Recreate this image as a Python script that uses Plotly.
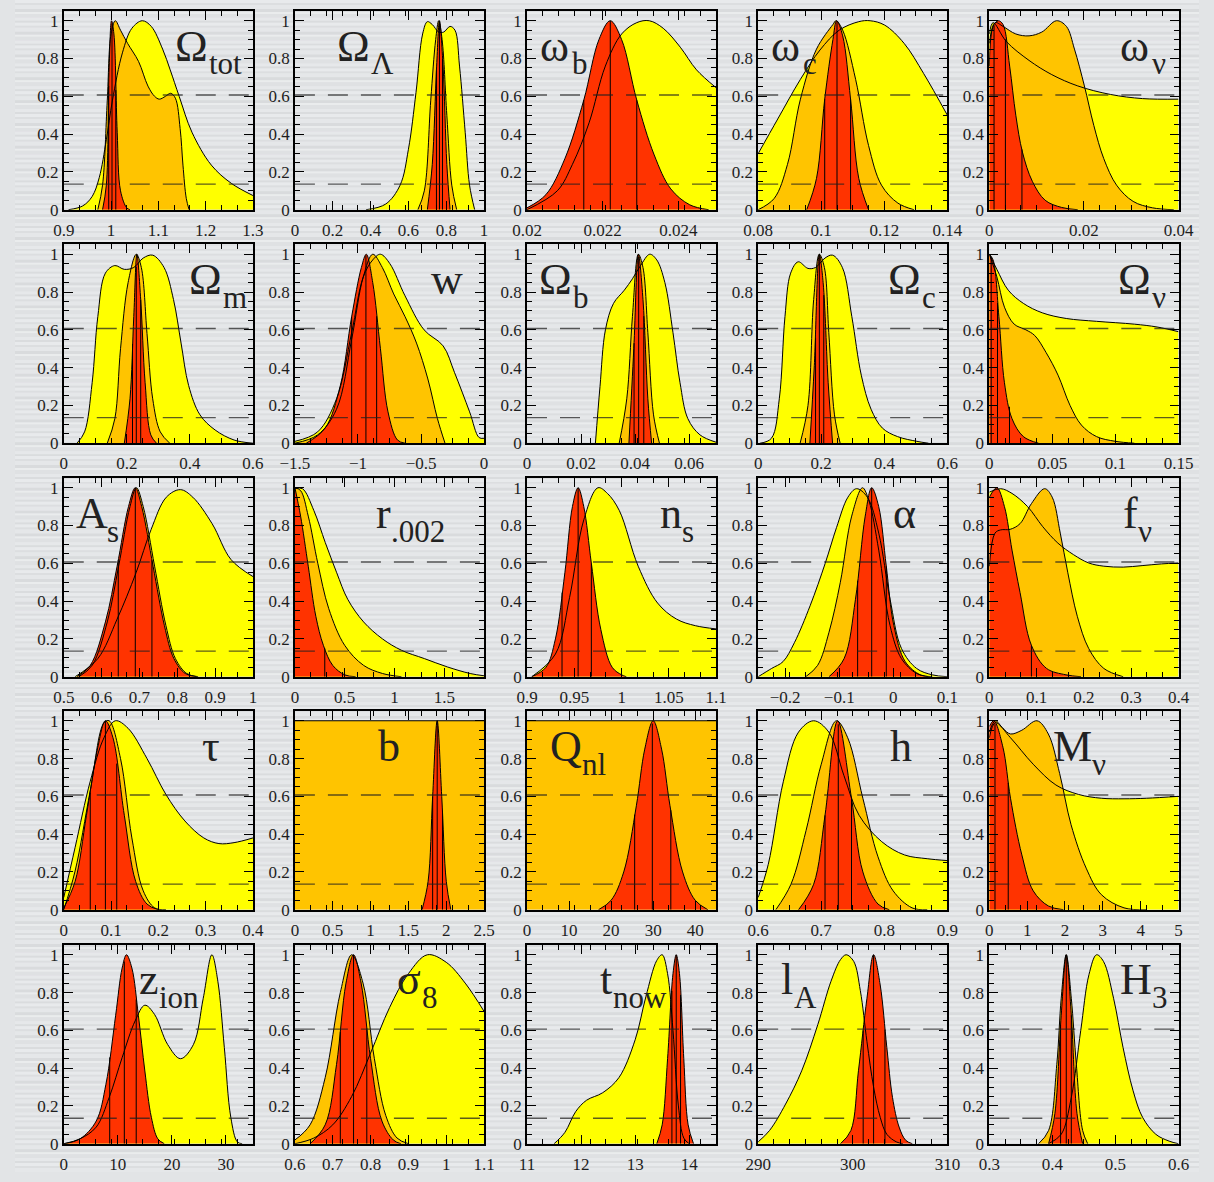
import numpy as np
import plotly.graph_objects as go

# ---------------------------------------------------------------
# Page geometry (pixels) for the 5 x 5 grid of 1-D likelihoods
# ---------------------------------------------------------------
FIG_W, FIG_H = 1214, 1182
COL_LEFT = [50, 287, 525, 762, 999]
ROW_TOP = [11, 246.5, 482, 717, 953]
PANEL_W, PANEL_H = 194, 200.5
Y_MAX = 1.052
LEVEL_1SIG = 0.607   # e^(-1/2)
LEVEL_2SIG = 0.135   # e^(-2)

YELLOW, ORANGE, RED = "#ffff00", "#ffc400", "#ff3300"
FONT = "Liberation Serif"

# ---------------------------------------------------------------
# Likelihood curves: [parameter value, relative likelihood]
# yellow = widest constraint, orange = intermediate, red = tightest
# *_LINES = median and 1-sigma positions marked inside red curve
# ---------------------------------------------------------------
OMTOT_Y = [[0.91, 0], [0.94, 0.02], [0.96, 0.07], [0.975, 0.17], [0.99, 0.37], [1.003, 0.58], [1.024, 0.83],
           [1.044, 0.96], [1.066, 1.0], [1.085, 0.97], [1.109, 0.85], [1.125, 0.74], [1.144, 0.6], [1.171, 0.41],
           [1.212, 0.236], [1.254, 0.14], [1.3, 0.075]]
OMTOT_O = [[0.972, 0], [0.982, 0.13], [0.992, 0.58], [1.0, 0.93], [1.009, 1.0], [1.02, 0.95], [1.035, 0.88],
           [1.058, 0.785], [1.078, 0.654], [1.092, 0.6], [1.102, 0.585], [1.115, 0.6], [1.126, 0.616],
           [1.136, 0.59], [1.146, 0.43], [1.152, 0.236], [1.159, 0.06], [1.165, 0]]
OMTOT_R = [[0.982, 0], [0.99, 0.13], [0.996, 0.76], [1.001, 1.0], [1.006, 0.93], [1.013, 0.41], [1.02, 0.1],
           [1.033, 0.01], [1.04, 0]]
OMTOT_LINES = [0.995, 1.002, 1.01]

OMLAM_Y = [[0.376, 0], [0.48, 0.03], [0.556, 0.13], [0.6, 0.32], [0.64, 0.62], [0.675, 0.93], [0.70, 0.995],
           [0.726, 0.98], [0.76, 0.94], [0.786, 0.94], [0.82, 0.97], [0.846, 0.95], [0.87, 0.76], [0.9, 0.41],
           [0.923, 0.13], [0.95, 0]]
OMLAM_O = [[0.65, 0], [0.684, 0.1], [0.718, 0.58], [0.744, 0.9], [0.76, 1], [0.778, 0.9], [0.803, 0.5],
           [0.829, 0.13], [0.855, 0]]
OMLAM_R = [[0.70, 0], [0.726, 0.24], [0.749, 0.76], [0.764, 1], [0.783, 0.76], [0.803, 0.24], [0.82, 0]]
OMLAM_LINES = [0.748, 0.764, 0.78]

OMB_H2_Y = [[0.02, 0], [0.0208, 0.1], [0.0212, 0.24], [0.02164, 0.46], [0.02207, 0.76], [0.0225, 0.93],
            [0.0229, 0.99], [0.02323, 1.0], [0.0236, 0.96], [0.02405, 0.86], [0.02448, 0.74], [0.025, 0.645]]
OMB_H2_R = [[0.02, 0.01], [0.0205, 0.08], [0.021, 0.27], [0.0215, 0.58], [0.0219, 0.9], [0.0222, 1.0],
            [0.0225, 0.9], [0.0229, 0.58], [0.02336, 0.29], [0.0238, 0.11], [0.0243, 0.026], [0.0248, 0]]
OMB_H2_LINES = [0.0215, 0.0222, 0.0229]

OMC_H2_Y = [[0.08, 0.297], [0.0862, 0.48], [0.0934, 0.69], [0.0996, 0.845], [0.1057, 0.95], [0.1119, 0.995],
            [0.1155, 1], [0.1201, 0.977], [0.1263, 0.88], [0.1325, 0.72], [0.14, 0.5]]
OMC_H2_O = [[0.08, 0], [0.0851, 0.06], [0.0893, 0.24], [0.0934, 0.585], [0.0985, 0.85], [0.1037, 0.98],
            [0.1047, 1], [0.1068, 0.95], [0.1109, 0.69], [0.115, 0.34], [0.1191, 0.13], [0.1243, 0.035],
            [0.1294, 0]]
OMC_H2_R = [[0.0954, 0], [0.0985, 0.166], [0.1011, 0.585], [0.1037, 0.9], [0.1049, 1], [0.1068, 0.92],
            [0.1093, 0.585], [0.1119, 0.166], [0.115, 0]]
OMC_H2_LINES = [0.1011, 0.105, 0.1093]

OMNU_H2_Y = [[0, 0.93], [0.0008, 0.99], [0.0036, 0.89], [0.0084, 0.79], [0.0132, 0.715], [0.0187, 0.655],
             [0.0256, 0.61], [0.0324, 0.588], [0.04, 0.585]]
OMNU_H2_O = [[0, 0.88], [0.0012, 0.99], [0.0029, 0.97], [0.0056, 0.93], [0.0084, 0.92], [0.0111, 0.94],
             [0.0142, 1], [0.0163, 0.97], [0.018, 0.85], [0.0201, 0.655], [0.0221, 0.445], [0.0242, 0.27],
             [0.0269, 0.13], [0.0304, 0.044], [0.0345, 0.01], [0.039, 0]]
OMNU_H2_R = [[0, 0.76], [0.0008, 0.97], [0.0019, 1], [0.0029, 0.98], [0.0043, 0.76], [0.0056, 0.5],
             [0.007, 0.305], [0.0091, 0.15], [0.0118, 0.05], [0.0153, 0.012], [0.0187, 0]]
OMNU_H2_LINES = [0.001, 0.0034, 0.0069]

OMM_Y = [[0.042, 0], [0.066, 0.06], [0.09, 0.32], [0.108, 0.67], [0.132, 0.9], [0.162, 0.94], [0.192, 0.92],
         [0.222, 0.93], [0.252, 0.98], [0.282, 0.995], [0.318, 0.93], [0.348, 0.76], [0.372, 0.53],
         [0.396, 0.305], [0.432, 0.15], [0.48, 0.07], [0.54, 0.017], [0.6, 0]]
OMM_O = [[0.138, 0], [0.162, 0.13], [0.18, 0.5], [0.204, 0.85], [0.23, 1], [0.246, 0.93], [0.264, 0.58],
         [0.282, 0.235], [0.306, 0.06], [0.336, 0]]
OMM_R = [[0.192, 0], [0.21, 0.235], [0.222, 0.67], [0.232, 1], [0.244, 0.76], [0.258, 0.32], [0.276, 0.044],
         [0.294, 0]]
OMM_LINES = [0.218, 0.23, 0.244]

W_Y = [[-1.5, 0.01], [-1.32, 0.06], [-1.17, 0.235], [-1.05, 0.585], [-0.958, 0.88], [-0.883, 0.97],
       [-0.822, 1], [-0.747, 0.95], [-0.627, 0.78], [-0.476, 0.6], [-0.325, 0.515], [-0.235, 0.375],
       [-0.115, 0.166], [-0.04, 0.03], [0, 0.026]]
W_O = [[-1.5, 0], [-1.32, 0.044], [-1.17, 0.18], [-1.05, 0.55], [-0.958, 0.88], [-0.883, 1], [-0.807, 0.93],
       [-0.717, 0.79], [-0.627, 0.67], [-0.536, 0.53], [-0.446, 0.34], [-0.37, 0.13], [-0.31, 0]]
W_R = [[-1.41, 0], [-1.26, 0.08], [-1.14, 0.305], [-1.05, 0.67], [-0.973, 0.93], [-0.934, 1], [-0.883, 0.85],
       [-0.822, 0.5], [-0.762, 0.166], [-0.687, 0.017], [-0.627, 0]]
W_LINES = [-1.05, -0.937, -0.852]

OMB_Y = [[0.0253, 0], [0.027, 0.3], [0.029, 0.6], [0.032, 0.74], [0.036, 0.81], [0.039, 0.87], [0.042, 0.94],
         [0.0454, 1.0], [0.048, 0.97], [0.051, 0.85], [0.054, 0.585], [0.0566, 0.32], [0.0595, 0.13],
         [0.064, 0.044], [0.07, 0.005]]
OMB_O = [[0.0341, 0], [0.0369, 0.235], [0.039, 0.67], [0.0412, 1.0], [0.0429, 0.93], [0.0447, 0.585],
         [0.0468, 0.15], [0.049, 0]]
OMB_R = [[0.0377, 0], [0.0395, 0.5], [0.0412, 1], [0.0429, 0.76], [0.0447, 0.235], [0.0461, 0]]
OMB_LINES = [0.0396, 0.0413, 0.0432]

OMC_Y = [[0.006, 0], [0.042, 0.026], [0.067, 0.235], [0.085, 0.67], [0.103, 0.9], [0.127, 0.96],
         [0.158, 0.925], [0.182, 0.93], [0.212, 0.98], [0.236, 0.995], [0.267, 0.93], [0.297, 0.67],
         [0.327, 0.36], [0.358, 0.18], [0.394, 0.08], [0.442, 0.035], [0.503, 0.01], [0.54, 0]]
OMC_O = [[0.133, 0], [0.158, 0.2], [0.176, 0.76], [0.194, 1], [0.21, 0.93], [0.224, 0.585], [0.242, 0.15],
         [0.26, 0]]
OMC_R = [[0.164, 0], [0.178, 0.41], [0.194, 1], [0.206, 0.85], [0.222, 0.32], [0.236, 0]]
OMC_LINES = [0.182, 0.194, 0.208]

OMNU_Y = [[0, 1], [0.006, 0.92], [0.015, 0.81], [0.027, 0.74], [0.042, 0.69], [0.061, 0.66], [0.085, 0.645],
          [0.115, 0.63], [0.133, 0.615], [0.15, 0.59]]
OMNU_O = [[0, 1], [0.006, 0.88], [0.012, 0.72], [0.0197, 0.63], [0.029, 0.6], [0.036, 0.57], [0.045, 0.48],
          [0.0545, 0.36], [0.064, 0.2], [0.073, 0.096], [0.085, 0.035], [0.1, 0.01], [0.115, 0]]
OMNU_R = [[0, 1], [0.003, 0.97], [0.0076, 0.67], [0.012, 0.32], [0.018, 0.13], [0.027, 0.035], [0.039, 0]]
OMNU_LINES = [0.0015, 0.0065, 0.016]

AS_Y = [[0.53, 0], [0.59, 0.096], [0.641, 0.305], [0.691, 0.55], [0.731, 0.78], [0.771, 0.95], [0.808, 0.99],
        [0.841, 0.95], [0.892, 0.81], [0.942, 0.62], [1.0, 0.53]]
AS_O = [[0.54, 0], [0.575, 0.06], [0.615, 0.29], [0.645, 0.585], [0.675, 0.9], [0.692, 1], [0.71, 0.9],
        [0.74, 0.585], [0.77, 0.27], [0.795, 0.096], [0.825, 0.017], [0.855, 0]]
AS_R = [[0.535, 0], [0.57, 0.06], [0.61, 0.29], [0.641, 0.585], [0.671, 0.9], [0.689, 1], [0.706, 0.9],
        [0.736, 0.585], [0.766, 0.27], [0.791, 0.096], [0.821, 0.017], [0.851, 0]]
AS_LINES = [0.644, 0.689, 0.733]

R002_Y = [[0, 0.995], [0.076, 0.995], [0.19, 0.88], [0.305, 0.71], [0.42, 0.55], [0.53, 0.41], [0.69, 0.29],
          [0.88, 0.2], [1.07, 0.14], [1.3, 0.096], [1.53, 0.052], [1.76, 0.017], [1.9, 0.005]]
R002_O = [[0, 1], [0.057, 0.985], [0.134, 0.85], [0.23, 0.6], [0.34, 0.36], [0.5, 0.166], [0.69, 0.06],
          [0.88, 0.017], [1.07, 0]]
R002_R = [[0, 1], [0.057, 0.85], [0.134, 0.585], [0.21, 0.32], [0.286, 0.166], [0.38, 0.06], [0.5, 0.01],
          [0.61, 0]]
R002_LINES = [0.3]

NS_Y = [[0.905, 0], [0.93, 0.12], [0.945, 0.42], [0.96, 0.83], [0.975, 1.0], [0.985, 0.97], [0.9975, 0.88],
        [1.0175, 0.585], [1.038, 0.39], [1.058, 0.305], [1.078, 0.27], [1.1, 0.253]]
NS_R = [[0.905, 0], [0.92, 0.05], [0.93, 0.2], [0.94, 0.55], [0.948, 0.9], [0.954, 1.0], [0.96, 0.9],
        [0.968, 0.6], [0.978, 0.25], [0.99, 0.05], [1.0, 0.01], [1.005, 0]]
NS_LINES = [0.937, 0.954, 0.968]

ALPHA_Y = [[-0.25, 0], [-0.225, 0.044], [-0.204, 0.08], [-0.183, 0.18], [-0.154, 0.375], [-0.126, 0.6],
           [-0.105, 0.79], [-0.084, 0.95], [-0.068, 0.995], [-0.048, 0.95], [-0.027, 0.76], [-0.006, 0.41],
           [0.015, 0.15], [0.043, 0.044], [0.072, 0.01], [0.1, 0]]
ALPHA_O = [[-0.162, 0], [-0.14, 0.06], [-0.119, 0.235], [-0.098, 0.5], [-0.077, 0.85], [-0.057, 1],
           [-0.045, 0.93], [-0.027, 0.67], [-0.006, 0.27], [0.015, 0.096], [0.043, 0.017], [0.065, 0]]
ALPHA_R = [[-0.119, 0], [-0.091, 0.096], [-0.07, 0.41], [-0.052, 0.85], [-0.04, 1], [-0.027, 0.9],
           [-0.013, 0.585], [0.001, 0.27], [0.022, 0.08], [0.05, 0.01], [0.072, 0]]
ALPHA_LINES = [-0.066, -0.04, -0.013]

FNU_Y = [[0, 0.977], [0.024, 0.995], [0.048, 0.97], [0.081, 0.9], [0.113, 0.794], [0.145, 0.707],
         [0.178, 0.646], [0.21, 0.602], [0.242, 0.585], [0.283, 0.58], [0.323, 0.588], [0.364, 0.597],
         [0.4, 0.602]]
FNU_O = [[0, 0.585], [0.012, 0.76], [0.024, 0.777], [0.044, 0.78], [0.065, 0.81], [0.089, 0.916],
         [0.117, 0.995], [0.133, 0.95], [0.15, 0.76], [0.166, 0.55], [0.186, 0.32], [0.21, 0.15],
         [0.242, 0.044], [0.283, 0]]
FNU_R = [[0, 0.95], [0.016, 1], [0.032, 0.9], [0.048, 0.67], [0.065, 0.445], [0.089, 0.166], [0.121, 0.044],
         [0.162, 0.01], [0.194, 0]]
FNU_LINES = [0.089]

TAU_Y = [[0, 0.065], [0.024, 0.33], [0.056, 0.68], [0.085, 0.91], [0.109, 1], [0.136, 0.96], [0.176, 0.8],
         [0.216, 0.61], [0.256, 0.47], [0.296, 0.38], [0.328, 0.35], [0.36, 0.355], [0.4, 0.38]]
TAU_O = [[0, 0], [0.024, 0.205], [0.056, 0.63], [0.085, 0.99], [0.096, 1], [0.12, 0.8], [0.144, 0.38],
         [0.168, 0.1], [0.192, 0.01], [0.216, 0]]
TAU_R = [[0, 0.01], [0.024, 0.15], [0.048, 0.5], [0.072, 0.86], [0.088, 1], [0.104, 0.91], [0.128, 0.5],
         [0.152, 0.15], [0.176, 0.03], [0.2, 0]]
TAU_LINES = [0.056, 0.088, 0.112]

BIAS_O = [[0, 1], [2.5, 1]]
BIAS_R = [[1.68, 0], [1.76, 0.15], [1.82, 0.6], [1.88, 1], [1.94, 0.6], [2.0, 0.15], [2.06, 0]]
BIAS_LINES = [1.82, 1.88, 1.95]

QNL_O = [[0, 1], [45, 1]]
QNL_R = [[17, 0], [20, 0.05], [23, 0.2], [26, 0.55], [28, 0.85], [30, 1], [32, 0.85], [34, 0.55], [37, 0.2],
         [40, 0.05], [43, 0]]
QNL_LINES = [25.6, 29.8, 34.2]

H_Y = [[0.6, 0.065], [0.616, 0.24], [0.64, 0.68], [0.664, 0.94], [0.688, 1], [0.712, 0.94], [0.736, 0.71],
       [0.76, 0.5], [0.796, 0.36], [0.832, 0.29], [0.868, 0.27], [0.9, 0.26]]
H_O = [[0.628, 0], [0.652, 0.135], [0.676, 0.42], [0.7, 0.77], [0.724, 1], [0.742, 0.91], [0.766, 0.59],
       [0.79, 0.28], [0.814, 0.1], [0.844, 0.01], [0.868, 0]]
H_R = [[0.664, 0], [0.688, 0.135], [0.706, 0.5], [0.726, 1], [0.748, 0.59], [0.766, 0.2], [0.79, 0.03],
       [0.808, 0]]
H_LINES = [0.706, 0.727, 0.748]

MNU_Y = [[0, 0.91], [0.16, 0.99], [0.56, 0.91], [1.16, 0.77], [1.76, 0.66], [2.36, 0.61], [2.96, 0.59],
         [3.56, 0.587], [4.16, 0.59], [5, 0.6]]
MNU_O = [[0, 0.94], [0.16, 1], [0.36, 0.96], [0.56, 0.93], [0.86, 0.95], [1.26, 1], [1.56, 0.93],
         [1.86, 0.72], [2.16, 0.45], [2.56, 0.22], [2.96, 0.08], [3.56, 0.01], [4.16, 0]]
MNU_R = [[0, 0.97], [0.12, 1], [0.36, 0.86], [0.56, 0.59], [0.86, 0.29], [1.16, 0.1], [1.56, 0.02],
         [1.96, 0]]
MNU_LINES = [0.15, 0.5]

ZION_Y = [[0, 0], [3, 0.026], [6, 0.088], [8.4, 0.245], [10.8, 0.456], [13.2, 0.65], [15, 0.733],
          [16.8, 0.684], [19.2, 0.526], [21.6, 0.45], [24, 0.526], [25.8, 0.77], [27.4, 1], [28.5, 0.86],
          [29.7, 0.51], [30.9, 0.14], [32.1, 0.01], [33, 0]]
ZION_R = [[0, 0], [3, 0.026], [6, 0.12], [7.8, 0.315], [9.6, 0.68], [10.8, 0.93], [11.6, 1], [12.6, 0.93],
          [13.8, 0.68], [15, 0.385], [16.2, 0.14], [17.4, 0.026], [18.6, 0]]
ZION_LINES = [8.5, 11.2, 13.4]

SIG8_Y = [[0.6, 0], [0.65, 0.03], [0.7, 0.1], [0.75, 0.25], [0.8, 0.48], [0.85, 0.72], [0.9, 0.9],
          [0.95, 1.0], [1.0, 0.96], [1.05, 0.85], [1.1, 0.7]]
SIG8_O = [[0.6, 0.02], [0.64, 0.1], [0.68, 0.35], [0.72, 0.8], [0.75, 1], [0.78, 0.85], [0.81, 0.45],
          [0.84, 0.15], [0.87, 0.03], [0.9, 0]]
SIG8_R = [[0.64, 0], [0.68, 0.1], [0.71, 0.42], [0.735, 0.85], [0.755, 1], [0.775, 0.85], [0.8, 0.45],
          [0.83, 0.12], [0.86, 0.02], [0.88, 0]]
SIG8_LINES = [0.72, 0.755, 0.79]

TNOW_Y = [[11.5, 0], [11.7, 0.06], [11.9, 0.17], [12.1, 0.23], [12.4, 0.27], [12.7, 0.35], [13.0, 0.55],
          [13.2, 0.78], [13.4, 0.97], [13.5, 1.0], [13.6, 0.9], [13.7, 0.6], [13.8, 0.2], [13.9, 0.03],
          [14.0, 0]]
TNOW_R = [[13.4, 0], [13.5, 0.1], [13.6, 0.45], [13.7, 0.9], [13.76, 1], [13.82, 0.9], [13.9, 0.45],
          [13.98, 0.1], [14.08, 0]]
TNOW_LINES = [13.68, 13.76, 13.84]

LA_Y = [[290, 0.01], [291.2, 0.07], [292.9, 0.21], [294.6, 0.386], [296.3, 0.63], [297.7, 0.86],
        [298.7, 0.974], [299.3, 1], [300.1, 0.965], [300.8, 0.81], [301.5, 0.54], [302.2, 0.3],
        [302.9, 0.14], [303.6, 0.05], [304.6, 0.01], [305.3, 0]]
LA_R = [[298.7, 0], [299.8, 0.07], [300.6, 0.386], [301.5, 0.77], [302.2, 1], [302.9, 0.84], [303.6, 0.51],
        [304.2, 0.245], [304.9, 0.088], [305.6, 0.018], [306.3, 0]]
LA_LINES = [301.1, 302.2, 303.4]

H3_Y = [[0.394, 0], [0.414, 0.05], [0.43, 0.245], [0.445, 0.6], [0.458, 0.895], [0.47, 1], [0.481, 0.965],
        [0.497, 0.77], [0.512, 0.51], [0.528, 0.28], [0.543, 0.14], [0.564, 0.05], [0.585, 0.014], [0.6, 0]]
H3_O = [[0.378, 0], [0.394, 0.07], [0.407, 0.42], [0.414, 0.77], [0.422, 1], [0.43, 0.77], [0.438, 0.42],
        [0.448, 0.07], [0.456, 0]]
H3_R = [[0.394, 0], [0.404, 0.16], [0.414, 0.68], [0.422, 1], [0.43, 0.68], [0.439, 0.16], [0.448, 0]]
H3_LINES = [0.413, 0.422, 0.43]

# x-axis ranges and labelled ticks per panel
X_RANGES = [[0.9, 1.3], [0, 1], [0.02, 0.025], [0.08, 0.14], [0, 0.04],
            [0, 0.6], [-1.5, 0], [0, 0.07], [0, 0.6], [0, 0.15],
            [0.5, 1], [0, 1.9], [0.9, 1.1], [-0.25, 0.1], [0, 0.4],
            [0, 0.4], [0, 2.5], [0, 45], [0.6, 0.9], [0, 5],
            [0, 35], [0.6, 1.1], [11, 14.5], [290, 310], [0.3, 0.6]]
X_TICKS = [[0.9, 1, 1.1, 1.2, 1.3], [0, 0.2, 0.4, 0.6, 0.8, 1], [0.02, 0.022, 0.024], [0.08, 0.1, 0.12, 0.14],
           [0, 0.02, 0.04],
           [0, 0.2, 0.4, 0.6], [-1.5, -1, -0.5, 0], [0, 0.02, 0.04, 0.06], [0, 0.2, 0.4, 0.6], [0, 0.05, 0.1, 0.15],
           [0.5, 0.6, 0.7, 0.8, 0.9, 1], [0, 0.5, 1, 1.5], [0.9, 0.95, 1, 1.05, 1.1], [-0.2, -0.1, 0, 0.1],
           [0, 0.1, 0.2, 0.3, 0.4],
           [0, 0.1, 0.2, 0.3, 0.4], [0, 0.5, 1, 1.5, 2, 2.5], [0, 10, 20, 30, 40], [0.6, 0.7, 0.8, 0.9],
           [0, 1, 2, 3, 4, 5],
           [0, 10, 20, 30], [0.6, 0.7, 0.8, 0.9, 1, 1.1], [11, 12, 13, 14], [290, 300, 310], [0.3, 0.4, 0.5, 0.6]]
Y_TICKS = [0, 0.2, 0.4, 0.6, 0.8, 1]

# symbol, subscript
LABELS = [("Ω", "tot"), ("Ω", "Λ"), ("ω", "b"), ("ω", "c"), ("ω", "ν"),
          ("Ω", "m"), ("w", ""), ("Ω", "b"), ("Ω", "c"), ("Ω", "ν"),
          ("A", "s"), ("r", ".002"), ("n", "s"), ("α", ""), ("f", "ν"),
          ("τ", ""), ("b", ""), ("Q", "nl"), ("h", ""), ("M", "ν"),
          ("z", "ion"), ("σ", "8"), ("t", "now"), ("l", "A"), ("H", "3")]

CURVES = [(OMTOT_Y, OMTOT_O, OMTOT_R, OMTOT_LINES), (OMLAM_Y, OMLAM_O, OMLAM_R, OMLAM_LINES),
          (OMB_H2_Y, None, OMB_H2_R, OMB_H2_LINES), (OMC_H2_Y, OMC_H2_O, OMC_H2_R, OMC_H2_LINES),
          (OMNU_H2_Y, OMNU_H2_O, OMNU_H2_R, OMNU_H2_LINES),
          (OMM_Y, OMM_O, OMM_R, OMM_LINES), (W_Y, W_O, W_R, W_LINES), (OMB_Y, OMB_O, OMB_R, OMB_LINES),
          (OMC_Y, OMC_O, OMC_R, OMC_LINES), (OMNU_Y, OMNU_O, OMNU_R, OMNU_LINES),
          (AS_Y, AS_O, AS_R, AS_LINES), (R002_Y, R002_O, R002_R, R002_LINES), (NS_Y, None, NS_R, NS_LINES),
          (ALPHA_Y, ALPHA_O, ALPHA_R, ALPHA_LINES), (FNU_Y, FNU_O, FNU_R, FNU_LINES),
          (TAU_Y, TAU_O, TAU_R, TAU_LINES), (None, BIAS_O, BIAS_R, BIAS_LINES), (None, QNL_O, QNL_R, QNL_LINES),
          (H_Y, H_O, H_R, H_LINES), (MNU_Y, MNU_O, MNU_R, MNU_LINES),
          (ZION_Y, None, ZION_R, ZION_LINES), (SIG8_Y, SIG8_O, SIG8_R, SIG8_LINES),
          (TNOW_Y, None, TNOW_R, TNOW_LINES), (LA_Y, None, LA_R, LA_LINES), (H3_Y, H3_O, H3_R, H3_LINES)]

# left edge (page pixels) of each parameter symbol
LABEL_LEFT = [162, 328, 536, 773, 1131,
              176, 424, 535, 893, 1129,
              60, 368, 659, 898, 1134,
              190, 370, 547, 895, 1062,
              125, 390, 598, 783, 1131]
ROW_BASELINE = [62, 297, 533, 768, 1003]
MAIN_FS, SUB_FS = 44, 31
SUB_DROP = 13
# advance widths (em) of the symbols in the label font
ADVANCE = {"Ω": 0.768, "ω": 0.72, "w": 0.722, "A": 0.722, "r": 0.333, "n": 0.5, "α": 0.55, "f": 0.333,
           "τ": 0.45, "b": 0.5, "Q": 0.722, "h": 0.5, "M": 0.889, "z": 0.444, "σ": 0.55, "t": 0.278,
           "l": 0.278, "H": 0.722}

# faint horizontal banding of the page background: (band height px, colour)
BANDS = [(3, "#e8eaec"), (2, "#dcdee0"), (4, "#e5e7e9"), (3, "#d9dbdd"), (2, "#eaeced"), (4, "#dfe1e3"),
         (3, "#e6e8ea"), (2, "#dadcde")]

fig = go.Figure()
layout = {}
shapes = []
annotations = []


def px_x(p):
    return p / FIG_W


def px_y(p):
    return 1 - p / FIG_H


# background banding
yb, k = 0, 0
while yb < FIG_H:
    hgt, col = BANDS[k % len(BANDS)]
    shapes.append(dict(type="rect", xref="paper", yref="paper", x0=0, x1=1,
                       y0=px_y(min(yb + hgt, FIG_H)), y1=px_y(yb),
                       fillcolor=col, line=dict(width=0), layer="below"))
    yb += hgt
    k += 1

for i in range(25):
    r, c = divmod(i, 5)
    n = i + 1
    xa = "x" if n == 1 else f"x{n}"
    ya = "y" if n == 1 else f"y{n}"
    x0p = COL_LEFT[c]
    y0p = ROW_TOP[r]
    xr = X_RANGES[i]

    layout["xaxis" if n == 1 else f"xaxis{n}"] = dict(
        domain=[px_x(x0p), px_x(x0p + PANEL_W)], anchor=ya, range=xr,
        tickvals=X_TICKS[i], ticks="inside", ticklen=9, tickwidth=1, tickcolor="black",
        minor=dict(ticks="inside", ticklen=5, tickwidth=1, tickcolor="black",
                   tick0=xr[0], dtick=(xr[1] - xr[0]) / 12, showgrid=False),
        showline=True, linecolor="black", linewidth=1.6, mirror="allticks",
        showgrid=False, zeroline=False, ticklabelstandoff=4,
        tickfont=dict(family=FONT, size=17, color="#1e1e1e"),
    )
    layout["yaxis" if n == 1 else f"yaxis{n}"] = dict(
        domain=[px_y(y0p + PANEL_H), px_y(y0p)], anchor=xa, range=[0, Y_MAX],
        tickvals=Y_TICKS, ticks="inside", ticklen=9, tickwidth=1, tickcolor="black",
        minor=dict(ticks="inside", ticklen=5, tickwidth=1, tickcolor="black",
                   tick0=0, dtick=0.05, showgrid=False),
        showline=True, linecolor="black", linewidth=1.6, mirror="allticks",
        showgrid=False, zeroline=False,
        tickfont=dict(family=FONT, size=17, color="#1e1e1e"),
    )

    yel, ora, red, vlines = CURVES[i]
    layers = [(yel, YELLOW), (ora, ORANGE), (red, RED)]

    # filled areas first, then every outline on top of all fills
    for pts, col in layers:
        if pts is None:
            continue
        arr = np.array(pts, dtype=float)
        fig.add_trace(go.Scatter(x=arr[:, 0], y=arr[:, 1], xaxis=xa, yaxis=ya, mode="lines",
                                 line=dict(width=0, shape="spline", color=col),
                                 fill="tozeroy", fillcolor=col, hoverinfo="skip", showlegend=False))
    for pts, col in layers:
        if pts is None:
            continue
        arr = np.array(pts, dtype=float)
        fig.add_trace(go.Scatter(x=arr[:, 0], y=arr[:, 1], xaxis=xa, yaxis=ya, mode="lines",
                                 line=dict(width=1, shape="spline", color="black"),
                                 hoverinfo="skip", showlegend=False))

    # median / 1-sigma markers, each rising to the red curve
    red_arr = np.array(red, dtype=float)
    vx, vy = [], []
    for v in vlines:
        h = float(np.interp(v, red_arr[:, 0], red_arr[:, 1]))
        vx += [v, v, None]
        vy += [0, h, None]
    fig.add_trace(go.Scatter(x=vx, y=vy, xaxis=xa, yaxis=ya, mode="lines",
                             line=dict(width=1, color="black"), hoverinfo="skip", showlegend=False))

    # dashed reference levels
    for lev in (LEVEL_1SIG, LEVEL_2SIG):
        shapes.append(dict(type="line", xref=f"{xa} domain", yref=ya, x0=0, x1=1, y0=lev, y1=lev,
                           line=dict(color="rgba(30,30,30,0.72)", width=1.3, dash="20px,13px"),
                           layer="above"))

    # parameter label: symbol plus a lowered subscript
    sym, sub = LABELS[i]
    mx = LABEL_LEFT[i]
    base = ROW_BASELINE[r]
    annotations.append(dict(text=sym, xref="paper", yref="paper", x=px_x(mx),
                            y=px_y(base - 0.3375 * MAIN_FS), xanchor="left", yanchor="middle",
                            showarrow=False, font=dict(family=FONT, size=MAIN_FS, color="#222")))
    if sub:
        sx = mx + ADVANCE[sym] * MAIN_FS + 1
        sbase = base + SUB_DROP
        annotations.append(dict(text=sub, xref="paper", yref="paper", x=px_x(sx),
                                y=px_y(sbase - 0.3375 * SUB_FS), xanchor="left", yanchor="middle",
                                showarrow=False, font=dict(family=FONT, size=SUB_FS, color="#222")))

fig.update_layout(
    width=FIG_W, height=FIG_H,
    margin=dict(l=0, r=0, t=0, b=0),
    paper_bgcolor="#e2e4e6", plot_bgcolor="rgba(0,0,0,0)",
    showlegend=False, shapes=shapes, annotations=annotations,
    **layout,
)

fig.write_html("out.html")
